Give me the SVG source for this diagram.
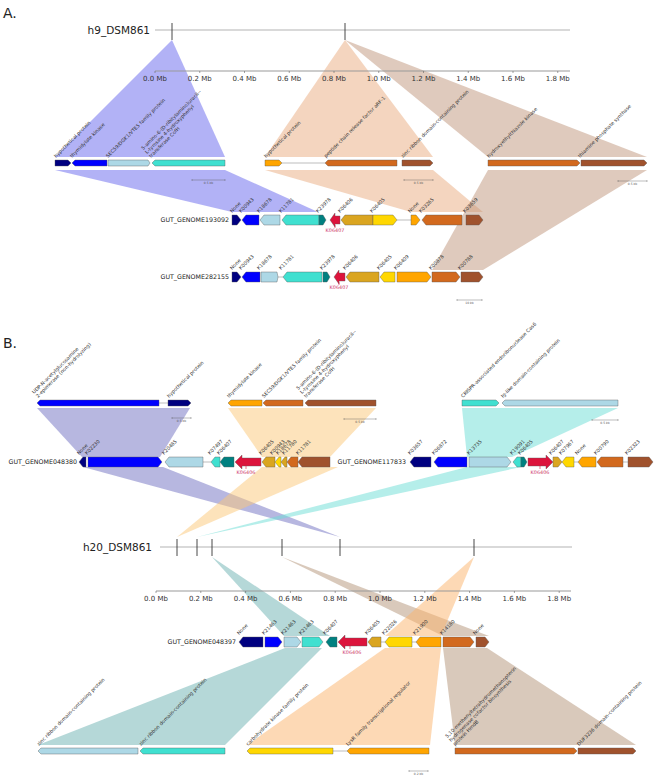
<svg xmlns="http://www.w3.org/2000/svg" width="660" height="776" viewBox="0 0 660 776">
<style>
text{font-family:"DejaVu Sans","Liberation Sans",sans-serif;fill:#333}
.hd{font-size:14px;fill:#222}
.gn{font-size:10.5px;fill:#222}
.ax{font-size:7px;text-anchor:middle}
.gl{font-size:4.9px}
.kl{font-size:4.9px}
.rl{font-size:4.9px;fill:#cc3366;text-anchor:middle}
.row{font-size:6.3px;text-anchor:end;fill:#222}
.sb{font-size:3px;text-anchor:middle;fill:#555}
.g path{stroke:#555;stroke-width:0.4}
.navy{fill:#000080}.blue{fill:#0000ff}.lb{fill:#add8e6}.tq{fill:#40e0d0}.teal{fill:#008080}.crim{fill:#dc143c}.gr{fill:#daa520}.gold{fill:#ffd700}.org{fill:#ffa500}.choc{fill:#d2691e}.sien{fill:#a0522d}
.gap{stroke:#bbb;stroke-width:0.6;fill:none}
.tk{stroke:#333;stroke-width:0.9}
.ln{stroke:#aaa;stroke-width:0.9}
.axl{stroke:#999;stroke-width:1.2}
.sbl{stroke:#666;stroke-width:0.6;fill:none}
.lk polygon{fill-opacity:0.5;stroke:none}
</style>

<text class="hd" x="3" y="18">A.</text>
<text class="hd" x="3" y="348">B.</text>

<!-- connectors -->
<g id="connectors" class="lk">
<polygon points="172,40 55,157 225,157" fill="#6666ee"/>
<polygon points="345,40 265,157 433,157" fill="#e9ab7f"/>
<polygon points="345,40 488,157 647,157" fill="#bf957b"/>
<polygon points="55,170 225,170 318,212 232,212" fill="#6666ee"/>
<polygon points="265,170 433,170 483,212 411,212" fill="#e9ab7f"/>
<polygon points="488,170 647,170 483,270 432,270" fill="#bf957b"/>

<polygon points="37,408 190,408 160,457 82,457" fill="#6f6fc1"/>
<polygon points="228,408 376,408 330,457 262,457" fill="#fbc777"/>
<polygon points="462,408 618,408 512,457 467,457" fill="#6bddd5"/>
<polygon points="83,467 163,467 340,537" fill="#6f6fc1"/>
<polygon points="262,467 338,467 177,537" fill="#fbc777"/>
<polygon points="467,467 521,467 197,537" fill="#6bddd5"/>

<polygon points="212,557 284,636 330,636" fill="#6bb1b1"/>
<polygon points="282,557 443,636 489,636" fill="#b39377"/>
<polygon points="474,557 385,636 441,636" fill="#fbb36b"/>
<polygon points="285,648 322,648 225,745 38,745" fill="#6bb1b1"/>
<polygon points="385,648 441,648 430,745 247,745" fill="#fbb36b"/>
<polygon points="443,648 487,648 636,745 455,745" fill="#b39377"/>
</g>

<!-- h9 genome -->
<g id="h9_DSM861">
<text class="gn" x="150" y="34" text-anchor="end">h9_DSM861</text>
<line class="ln" x1="155" y1="30" x2="570" y2="30"/>
<line class="tk" x1="172" y1="23" x2="172" y2="40"/>
<line class="tk" x1="345" y1="23" x2="345" y2="40"/>
</g>

<g id="axis-a">
<line class="axl" x1="155" y1="71" x2="570" y2="71"/>
<path class="sbl" d="M155 71v2M199.75 71v2M244.5 71v2M289.25 71v2M334 71v2M378.75 71v2M423.5 71v2M468.25 71v2M513 71v2M557.75 71v2"/>
<text class="ax" x="155" y="81">0.0 Mb</text>
<text class="ax" x="199.75" y="81">0.2 Mb</text>
<text class="ax" x="244.5" y="81">0.4 Mb</text>
<text class="ax" x="289.25" y="81">0.6 Mb</text>
<text class="ax" x="334" y="81">0.8 Mb</text>
<text class="ax" x="378.75" y="81">1.0 Mb</text>
<text class="ax" x="423.5" y="81">1.2 Mb</text>
<text class="ax" x="468.25" y="81">1.4 Mb</text>
<text class="ax" x="513" y="81">1.6 Mb</text>
<text class="ax" x="557.75" y="81">1.8 Mb</text>
</g>

<!-- A hub clusters -->
<g id="a-cluster-left" class="g">
<path class="navy" d="M55 160H68L71 163L68 166H55Z"/>
<path class="blue" d="M107 160H75L72 163L75 166H107Z"/>
<path class="lb" d="M108 160H148L150 163L148 166H108Z"/>
<path class="tq" d="M225 160H155L152 163L155 166H225Z"/>
<text class="gl" transform="translate(56,158) rotate(-45)">hypothetical protein</text>
<text class="gl" transform="translate(72,158) rotate(-45)">thymidylate kinase</text>
<text class="gl" transform="translate(108,158) rotate(-45)">SEC59/DGK1/VTE5 family protein</text>
<text class="gl" transform="translate(151,158) rotate(-45)"><tspan x="0" y="-11">5-amino-6-(D-ribitylamino)uracil--</tspan><tspan x="0" y="-5.5">L-tyrosine 4-hydroxyphenyl</tspan><tspan x="0" y="0">transferase CofH</tspan></text>
<path class="sbl" d="M192 180H225M192 179v2M225 179v2"/>
<text class="sb" x="208.5" y="184">0.5 kb</text>
</g>

<g id="a-cluster-mid" class="g">
<path class="gap" d="M282 163H325"/>
<path class="org" d="M265 160H279L282 163L279 166H265Z"/>
<path class="choc" d="M397 160H328L325 163L328 166H397Z"/>
<path class="sien" d="M402 160H430L433 163L430 166H402Z"/>
<text class="gl" transform="translate(266,158) rotate(-45)">hypothetical protein</text>
<text class="gl" transform="translate(326,158) rotate(-45)">peptide chain release factor aRF-1</text>
<text class="gl" transform="translate(403,158) rotate(-45)">zinc ribbon domain-containing protein</text>
<path class="sbl" d="M404 180H433M404 179v2M433 179v2"/>
<text class="sb" x="418.5" y="184">0.5 kb</text>
</g>

<g id="a-cluster-right" class="g">
<path class="choc" d="M488 160H577L580 163L577 166H488Z"/>
<path class="sien" d="M581 160H644L647 163L644 166H581Z"/>
<text class="gl" transform="translate(489,158) rotate(-45)">hydroxyethylthiazole kinase</text>
<text class="gl" transform="translate(580,158) rotate(-45)">thiamine phosphate synthase</text>
<path class="sbl" d="M618 181H647M618 180v2M647 180v2"/>
<text class="sb" x="632.5" y="185">0.5 kb</text>
</g>

<!-- GUT_GENOME193092 -->
<g id="GUT_GENOME193092" class="g">
<text class="row" x="229" y="222">GUT_GENOME193092</text>
<path class="gap" d="M397 220H411"/>
<path class="navy" d="M232 215H237L241 220L237 225H232Z"/>
<path class="blue" d="M259 215H246L242 220L246 225H259Z"/>
<path class="lb" d="M280 215H264L260 220L264 225H280Z"/>
<path class="tq" d="M319 215H286L282 220L286 225H319Z"/>
<path class="teal" d="M319 215H323L326 220L323 225H319Z"/>
<path class="crim" d="M330 220L335 213V216H340V224H335V227Z"/>
<path class="gr" d="M373 215H345L341 220L345 225H373Z"/>
<path class="gold" d="M373 215H393L397 220L393 225H373Z"/>
<path class="org" d="M411 215H416L420 220L416 225H411Z"/>
<path class="choc" d="M462 215H426L422 220L426 225H462Z"/>
<path class="sien" d="M466 215H479L483 220L479 225H466Z"/>
<line x1="335" y1="225" x2="335" y2="228" stroke="#dc143c" stroke-width="0.6"/>
<text class="rl" x="335" y="232">K06407</text>
<text class="kl" transform="translate(232,213) rotate(-45)">None</text>
<text class="kl" transform="translate(241,213) rotate(-45)">K00943</text>
<text class="kl" transform="translate(259,213) rotate(-45)">K18678</text>
<text class="kl" transform="translate(281,213) rotate(-45)">K11781</text>
<text class="kl" transform="translate(318,213) rotate(-45)">K23978</text>
<text class="kl" transform="translate(340,213) rotate(-45)">K06406</text>
<text class="kl" transform="translate(372,213) rotate(-45)">K06405</text>
<text class="kl" transform="translate(410,213) rotate(-45)">None</text>
<text class="kl" transform="translate(421,213) rotate(-45)">K03265</text>
<text class="kl" transform="translate(465,213) rotate(-45)">K03659</text>
</g>

<!-- GUT_GENOME282155 -->
<g id="GUT_GENOME282155" class="g">
<text class="row" x="229" y="279">GUT_GENOME282155</text>
<path class="gap" d="M278 277H283"/>
<path class="navy" d="M232 272H237L241 277L237 282H232Z"/>
<path class="blue" d="M260 272H246L242 277L246 282H260Z"/>
<path class="lb" d="M261 272H277L278 277L277 282H261Z"/>
<path class="tq" d="M322 272H287L283 277L287 282H322Z"/>
<path class="teal" d="M323 272H327L330 277L327 282H323Z"/>
<path class="crim" d="M334 277L339 270V273H345V281H339V284Z"/>
<path class="gr" d="M379 272H350L346 277L350 282H379Z"/>
<path class="gold" d="M395 272H384L380 277L384 282H395Z"/>
<path class="org" d="M397 272H427L431 277L427 282H397Z"/>
<path class="choc" d="M432 272H456L460 277L456 282H432Z"/>
<path class="sien" d="M461 272H479L483 277L479 282H461Z"/>
<line x1="339" y1="282" x2="339" y2="285" stroke="#dc143c" stroke-width="0.6"/>
<text class="rl" x="339" y="289">K06407</text>
<text class="kl" transform="translate(232,270) rotate(-45)">None</text>
<text class="kl" transform="translate(241,270) rotate(-45)">K00943</text>
<text class="kl" transform="translate(259,270) rotate(-45)">K18678</text>
<text class="kl" transform="translate(281,270) rotate(-45)">K11781</text>
<text class="kl" transform="translate(322,270) rotate(-45)">K23978</text>
<text class="kl" transform="translate(345,270) rotate(-45)">K06406</text>
<text class="kl" transform="translate(379,270) rotate(-45)">K06405</text>
<text class="kl" transform="translate(396,270) rotate(-45)">K06409</text>
<text class="kl" transform="translate(431,270) rotate(-45)">K00878</text>
<text class="kl" transform="translate(460,270) rotate(-45)">K00788</text>
<path class="sbl" d="M457 300H482M457 299v2M482 299v2"/>
<text class="sb" x="469.5" y="304">10 kb</text>
</g>

<!-- B hub clusters -->
<g id="b-cluster-left" class="g">
<path class="gap" d="M159 403H168"/>
<path class="blue" d="M159 400H40L37 403L40 406H159Z"/>
<path class="navy" d="M168 400H188L191 403L188 406H168Z"/>
<text class="gl" transform="translate(38,398) rotate(-45)"><tspan x="0" y="-5.5">UDP-N-acetylglucosamine</tspan><tspan x="0" y="0">2-epimerase (non-hydrolyzing)</tspan></text>
<text class="gl" transform="translate(169,398) rotate(-45)">hypothetical protein</text>
<path class="sbl" d="M172 418H191M172 417v2M191 417v2"/>
<text class="sb" x="181.5" y="422">0.5 kb</text>
</g>

<g id="b-cluster-mid" class="g">
<path class="org" d="M262 400H231L228 403L231 406H262Z"/>
<path class="choc" d="M303 400H266L263 403L266 406H303Z"/>
<path class="sien" d="M376 400H308L305 403L308 406H376Z"/>
<text class="gl" transform="translate(229,398) rotate(-45)">thymidylate kinase</text>
<text class="gl" transform="translate(264,398) rotate(-45)">SEC59/DGK1/VTE5 family protein</text>
<text class="gl" transform="translate(306,398) rotate(-45)"><tspan x="0" y="-11">5-amino-6-(D-ribitylamino)uracil--</tspan><tspan x="0" y="-5.5">L-tyrosine 4-hydroxyphenyl</tspan><tspan x="0" y="0">transferase CofH</tspan></text>
<path class="sbl" d="M344 419H376M344 418v2M376 418v2"/>
<text class="sb" x="360" y="423">0.5 kb</text>
</g>

<g id="b-cluster-right" class="g">
<path class="tq" d="M462 400H496L499 403L496 406H462Z"/>
<path class="lb" d="M618 400H505L502 403L505 406H618Z"/>
<text class="gl" transform="translate(463,398) rotate(-45)">CRISPR-associated endoribonuclease Cas6</text>
<text class="gl" transform="translate(503,398) rotate(-45)">Ig-like domain-containing protein</text>
<path class="sbl" d="M592 420H618M592 419v2M618 419v2"/>
<text class="sb" x="605" y="424">0.5 kb</text>
</g>

<!-- GUT_GENOME048380 -->
<g id="GUT_GENOME048380" class="g">
<text class="row" x="77" y="464">GUT_GENOME048380</text>
<path class="gap" d="M203 462H211"/>
<path class="navy" d="M86 457H83L79 462L83 467H86Z"/>
<path class="blue" d="M88 457H158L162 462L158 467H88Z"/>
<path class="lb" d="M203 457H169L165 462L169 467H203Z"/>
<path class="tq" d="M220 457H215L211 462L215 467H220Z"/>
<path class="teal" d="M234 457H224L220 462L224 467H234Z"/>
<path class="crim" d="M235 462L242 455V458H261V466H242V469Z"/>
<path class="gr" d="M275 457H266L262 462L266 467H275Z"/>
<path class="gold" d="M281 457H279L275 462L279 467H281Z"/>
<path class="gr" d="M287 457H285L281 462L285 467H287Z"/>
<path class="choc" d="M298 457H291L287 462L291 467H298Z"/>
<path class="sien" d="M330 457H302L298 462L302 467H330Z"/>
<line x1="246" y1="466" x2="246" y2="469" stroke="#dc143c" stroke-width="0.6"/>
<text class="rl" x="246" y="474">K06406</text>
<text class="kl" transform="translate(79,455) rotate(-45)">None</text>
<text class="kl" transform="translate(87,455) rotate(-45)">K02230</text>
<text class="kl" transform="translate(164,455) rotate(-45)">K20485</text>
<text class="kl" transform="translate(210,455) rotate(-45)">K07497</text>
<text class="kl" transform="translate(219,455) rotate(-45)">K06407</text>
<text class="kl" transform="translate(261,455) rotate(-45)">K06405</text>
<text class="kl" transform="translate(272,455) rotate(-45)">K00943</text>
<text class="kl" transform="translate(278,455) rotate(-45)">K18678</text>
<text class="kl" transform="translate(284,455) rotate(-45)">K11780</text>
<text class="kl" transform="translate(298,455) rotate(-45)">K11781</text>
</g>

<!-- GUT_GENOME117833 -->
<g id="GUT_GENOME117833" class="g">
<text class="row" x="406" y="464">GUT_GENOME117833</text>
<path class="gap" d="M574 462H578M623 462H628"/>
<path class="navy" d="M431 457H414L410 462L414 467H431Z"/>
<path class="blue" d="M467 457H438L434 462L438 467H467Z"/>
<path class="lb" d="M469 457H507L511 462L507 467H469Z"/>
<path class="tq" d="M521 457H517L513 462L517 467H521Z"/>
<path class="teal" d="M521 457H524L527 462L524 467H521Z"/>
<path class="crim" d="M528 458H546V455L553 462L546 469V466H528Z"/>
<path class="gr" d="M553 457H558L562 462L558 467H553Z"/>
<path class="gold" d="M574 457H566L562 462L566 467H574Z"/>
<path class="org" d="M596 457H582L578 462L582 467H596Z"/>
<path class="choc" d="M623 457H601L597 462L601 467H623Z"/>
<path class="sien" d="M628 457H649L653 462L649 467H628Z"/>
<line x1="540" y1="466" x2="540" y2="469" stroke="#dc143c" stroke-width="0.6"/>
<text class="rl" x="540" y="474">K06406</text>
<text class="kl" transform="translate(410,455) rotate(-45)">K03657</text>
<text class="kl" transform="translate(434,455) rotate(-45)">K06872</text>
<text class="kl" transform="translate(469,455) rotate(-45)">K13735</text>
<text class="kl" transform="translate(512,455) rotate(-45)">K19091</text>
<text class="kl" transform="translate(520,455) rotate(-45)">K06405</text>
<text class="kl" transform="translate(551,455) rotate(-45)">K06407</text>
<text class="kl" transform="translate(561,455) rotate(-45)">K07967</text>
<text class="kl" transform="translate(577,455) rotate(-45)">None</text>
<text class="kl" transform="translate(596,455) rotate(-45)">K00790</text>
<text class="kl" transform="translate(627,455) rotate(-45)">K02323</text>
</g>

<!-- h20 genome -->
<g id="h20_DSM861">
<text class="gn" x="152" y="551" text-anchor="end">h20_DSM861</text>
<line class="ln" x1="160" y1="547" x2="572" y2="547"/>
<line class="tk" x1="177" y1="539" x2="177" y2="556"/>
<line class="tk" x1="197" y1="539" x2="197" y2="556"/>
<line class="tk" x1="212" y1="539" x2="212" y2="556"/>
<line class="tk" x1="282" y1="539" x2="282" y2="556"/>
<line class="tk" x1="340" y1="539" x2="340" y2="556"/>
<line class="tk" x1="474" y1="539" x2="474" y2="556"/>
</g>

<g id="axis-b">
<line class="axl" x1="156" y1="591" x2="571" y2="591"/>
<path class="sbl" d="M156 591v2M200.8 591v2M245.6 591v2M290.4 591v2M335.2 591v2M380 591v2M424.8 591v2M469.6 591v2M514.4 591v2M559.2 591v2"/>
<text class="ax" x="156" y="601">0.0 Mb</text>
<text class="ax" x="200.8" y="601">0.2 Mb</text>
<text class="ax" x="245.6" y="601">0.4 Mb</text>
<text class="ax" x="290.4" y="601">0.6 Mb</text>
<text class="ax" x="335.2" y="601">0.8 Mb</text>
<text class="ax" x="380" y="601">1.0 Mb</text>
<text class="ax" x="424.8" y="601">1.2 Mb</text>
<text class="ax" x="469.6" y="601">1.4 Mb</text>
<text class="ax" x="514.4" y="601">1.6 Mb</text>
<text class="ax" x="559.2" y="601">1.8 Mb</text>
</g>

<!-- GUT_GENOME048397 -->
<g id="GUT_GENOME048397" class="g">
<text class="row" x="236" y="644">GUT_GENOME048397</text>
<path class="gap" d="M381 642H385M412 642H416"/>
<path class="navy" d="M263 637H243L239 642L243 647H263Z"/>
<path class="blue" d="M265 637H278L282 642L278 647H265Z"/>
<path class="lb" d="M284 637H297L301 642L297 647H284Z"/>
<path class="tq" d="M302 637H319L323 642L319 647H302Z"/>
<path class="teal" d="M337 637H330L326 642L330 647H337Z"/>
<path class="crim" d="M338 642L345 635V638H367V646H345V649Z"/>
<path class="gr" d="M381 637H372L368 642L372 647H381Z"/>
<path class="gold" d="M412 637H389L385 642L389 647H412Z"/>
<path class="org" d="M441 637H420L416 642L420 647H441Z"/>
<path class="choc" d="M443 637H470L474 642L470 647H443Z"/>
<path class="sien" d="M476 637H485L489 642L485 647H476Z"/>
<line x1="350" y1="646" x2="350" y2="649" stroke="#dc143c" stroke-width="0.6"/>
<text class="rl" x="352" y="654">K06406</text>
<text class="kl" transform="translate(239,635) rotate(-45)">None</text>
<text class="kl" transform="translate(264,635) rotate(-45)">K21463</text>
<text class="kl" transform="translate(283,635) rotate(-45)">K21463</text>
<text class="kl" transform="translate(301,635) rotate(-45)">K21463</text>
<text class="kl" transform="translate(325,635) rotate(-45)">K06407</text>
<text class="kl" transform="translate(367,635) rotate(-45)">K06405</text>
<text class="kl" transform="translate(384,635) rotate(-45)">K22026</text>
<text class="kl" transform="translate(415,635) rotate(-45)">K21900</text>
<text class="kl" transform="translate(442,635) rotate(-45)">K14180</text>
<text class="kl" transform="translate(475,635) rotate(-45)">None</text>
</g>

<!-- bottom hub clusters -->
<g id="b-cluster-bottom-left" class="g">
<path class="lb" d="M138 748H41L38 751L41 754H138Z"/>
<path class="tq" d="M225 748H143L140 751L143 754H225Z"/>
<text class="gl" transform="translate(39,746) rotate(-45)">zinc ribbon domain-containing protein</text>
<text class="gl" transform="translate(141,746) rotate(-45)">zinc ribbon domain-containing protein</text>
</g>

<g id="b-cluster-bottom-mid" class="g">
<path class="gap" d="M333 751H347"/>
<path class="gold" d="M333 748H250L247 751L250 754H333Z"/>
<path class="org" d="M429 748H350L347 751L350 754H429Z"/>
<text class="gl" transform="translate(248,746) rotate(-45)">carbohydrate kinase family protein</text>
<text class="gl" transform="translate(348,746) rotate(-45)">LysR family transcriptional regulator</text>
<path class="sbl" d="M409 771H428M409 770v2M428 770v2"/>
<text class="sb" x="418.5" y="775">0.2 kb</text>
</g>

<g id="b-cluster-bottom-right" class="g">
<path class="choc" d="M455 748H574L577 751L574 754H455Z"/>
<path class="sien" d="M578 748H633L636 751L633 754H578Z"/>
<text class="gl" transform="translate(455,746) rotate(-45)"><tspan x="0" y="-11">5,10-methenyltetrahydromethanopterin</tspan><tspan x="0" y="-5.5">hydrogenase cofactor biosynthesis</tspan><tspan x="0" y="0">protein HmdB</tspan></text>
<text class="gl" transform="translate(579,746) rotate(-45)">DUF3236 domain-containing protein</text>
</g>
</svg>
